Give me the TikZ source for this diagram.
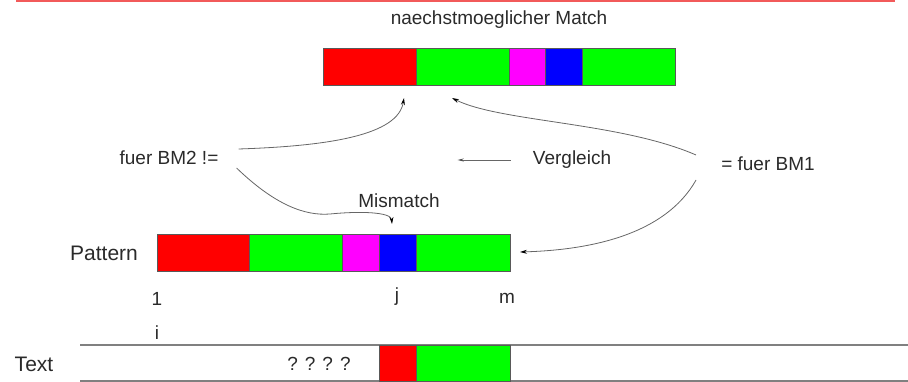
\documentclass[tikz,border=0pt]{standalone}
\usepackage{fontspec}
\setmainfont{Liberation Sans}
\usetikzlibrary{arrows.meta,positioning,calc}
\definecolor{topred}{HTML}{F25A5A}
\definecolor{cellgreen}{HTML}{00FF00}
\definecolor{cellmag}{HTML}{FF00FF}
\definecolor{schrift}{HTML}{2A2A2A}

\begin{document}
\begin{tikzpicture}[
    x=1pt, y=-1pt,
    cell/.style={
        rectangle,
        draw=black!65,
        line width=0.8pt,
        minimum height=37pt,
        inner sep=0pt,
        outer sep=0pt,
        anchor=north west
    },
    txt/.style={
        font=\fontsize{19}{22}\selectfont,
        text=schrift,
        inner sep=0pt
    },
    bigtxt/.style={
        font=\fontsize{21}{24}\selectfont,
        text=schrift,
        inner sep=0pt
    },
    curve/.style={
        -{Stealth[length=7pt,width=4pt,color=black]},
        line width=0.8pt,
        color=gray!80!black
    },
    arrow/.style={
        -{Stealth[length=6pt,width=3pt,color=black!70]},
        line width=0.8pt,
        color=gray!80!black
    }
]
\useasboundingbox (0,0) rectangle (908,382);

% Linie oben
\draw[topred, line width=2pt] (16,1) -- (895,1);

% naechstmoeglicher Match
\node[txt] (titel) at (499,20) {naechstmoeglicher Match};
\node[cell, fill=red, minimum width=93pt] (m1) at (323,48) {};
\node[cell, fill=cellgreen, minimum width=93pt] (m2) at (m1.north east) {};
\node[cell, fill=cellmag, minimum width=36pt] (m3) at (m2.north east) {};
\node[cell, fill=blue, minimum width=37pt] (m4) at (m3.north east) {};
\node[cell, fill=cellgreen, minimum width=93pt] (m5) at (m4.north east) {};

% Pattern
\node[bigtxt] (pattern) at (104,253) {Pattern};
\node[cell, fill=red, minimum width=92pt] (p1) at (157,234) {};
\node[cell, fill=cellgreen, minimum width=93pt] (p2) at (p1.north east) {};
\node[cell, fill=cellmag, minimum width=37pt] (p3) at (p2.north east) {};
\node[cell, fill=blue, minimum width=37pt] (p4) at (p3.north east) {};
\node[cell, fill=cellgreen, minimum width=94pt] (p5) at (p4.north east) {};

% Indizes
\node[txt] (eins) at (157,299) {1};
\node[txt] (jot) at (397,297) {j};
\node[txt] (em) at (507,298) {m};
\node[txt] (ih) at (157,333) {i};

% Text
\node[bigtxt] (text) at (34,364) {Text};
\draw[gray, line width=1.2pt] (80,345) -- (908,345);
\draw[gray, line width=1.2pt] (80,381) -- (908,381);
\node[txt] (fragen) at (319,364) {? ? ? ?};
\node[cell, fill=red, minimum width=37pt, minimum height=36pt] (t1) at (379,345) {};
\node[cell, fill=cellgreen, minimum width=94pt, minimum height=36pt] (t2) at (t1.north east) {};

% Beschriftungen
\node[txt] (bm2) at (169,158) {fuer BM2 !=};
\node[txt] (vergleich) at (572,160) {Vergleich};
\node[txt] (bm1) at (768,164) {= fuer BM1};
\node[txt] (mismatch) at (399,201) {Mismatch};

% Pfeilenden
\coordinate (tipA) at (404,98);
\coordinate (tipB) at (452,98);
\coordinate (tipC) at (520,252);
\coordinate (tipD) at (392,224);

% Kurven
\draw[curve] ([xshift=20pt,yshift=9pt]bm2.east) .. controls (330,146) and (398,135) .. (tipA);
\draw[curve] ([xshift=18pt,yshift=-10pt]bm2.east) .. controls (275,205) and (305,216) .. (330,214) .. controls (360,211) and (391,212) .. (tipD);
\draw[curve] ([xshift=-25pt,yshift=9pt]bm1.west) .. controls (620,122) and (500,122) .. (tipB);
\draw[curve] ([xshift=-25pt,yshift=-16pt]bm1.west) .. controls (665,235) and (590,250) .. (tipC);
\draw[arrow] ([xshift=-22pt]vergleich.west) -- ([xshift=-75pt]vergleich.west);

\end{tikzpicture}
\end{document}
